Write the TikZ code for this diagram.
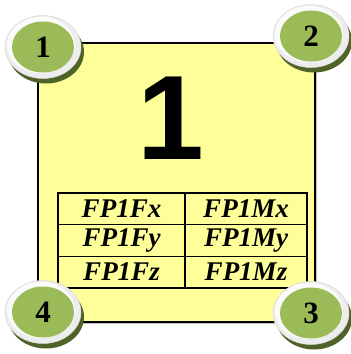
\documentclass[tikz,border=0pt]{standalone}
\usepackage{fontspec}
\setmainfont{Liberation Serif}
\newfontfamily\arialfont{Liberation Sans}
\definecolor{padyellow}{HTML}{FFFF99}
\definecolor{badgegreen}{HTML}{9BBB59}
\definecolor{badgeshadow}{HTML}{4F6228}
\definecolor{ringgray}{HTML}{EDEDED}
\tikzset{
  celltext/.style={inner sep=0pt, font=\fontsize{27}{27}\selectfont\bfseries\itshape},
  gridline/.style={draw=black, line width=1.3pt},
  badgenum/.style={font=\fontsize{31}{31}\selectfont\bfseries, text=black, inner sep=0pt},
}
\newcommand{\drawbadge}[3]{%
  \fill[badgeshadow] (#1+3,#2+5) ellipse [x radius=38, y radius=31.5];
  \fill[ringgray, draw=gray!30, line width=0.5pt] (#1,#2) ellipse [x radius=38, y radius=31.5];
  \fill[white!97!gray] (#1-2,#2-2) ellipse [x radius=34, y radius=28];
  \fill[badgegreen] (#1,#2) ellipse [x radius=31, y radius=25.5];
  \node[badgenum] (b#3) at (#1,#2) {#3};
}
\begin{document}
\begin{tikzpicture}[x=1pt,y=-1pt]
\useasboundingbox (0,0) rectangle (351,354);
% main panel
\fill[gray!50] (39.5,44.5) rectangle (316.5,323.5);
\draw[fill=padyellow, line width=1.3pt] (38,43) rectangle (315,322);
% big number
\node[font=\arialfont\bfseries\fontsize{120}{120}\selectfont, inner sep=0pt, anchor=base] (big) at (171,159) {1};
% table
\draw[gridline] (58,193) rectangle (307,288);
\draw[gridline] (185,193) -- (185,288);
\draw[gridline] (58,224.5) -- (307,224.5);
\draw[gridline] (58,256.5) -- (307,256.5);
\node[celltext] (c11) at (121.5,209) {FP1Fx};
\node[celltext] (c12) at (246,209) {FP1Mx};
\node[celltext] (c21) at (121.5,240.5) {FP1Fy};
\node[celltext] (c22) at (246,240.5) {FP1My};
\node[celltext] (c31) at (121.5,272) {FP1Fz};
\node[celltext] (c32) at (246,272) {FP1Mz};
% badges
\drawbadge{43}{47}{1}
\drawbadge{311}{36}{2}
\drawbadge{311}{313}{3}
\drawbadge{43}{312}{4}
\end{tikzpicture}
\end{document}
